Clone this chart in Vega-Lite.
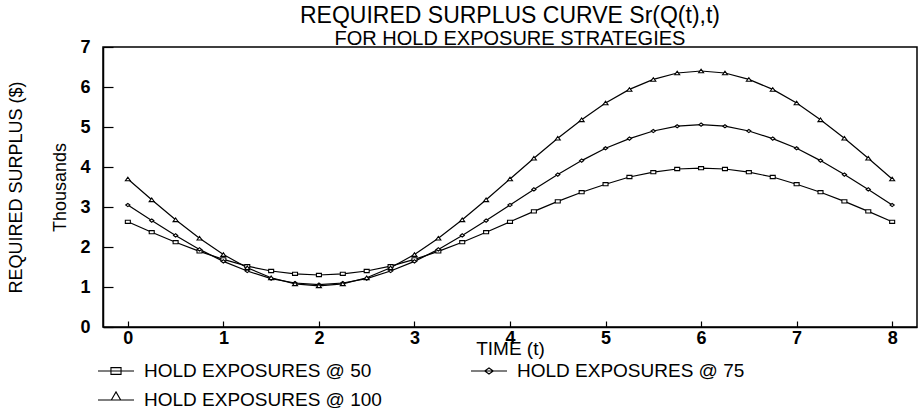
{
  "$schema": "https://vega.github.io/schema/vega-lite/v6.json",
  "width": 814,
  "height": 280,
  "autosize": {"type": "none"},
  "padding": {"left": 103, "top": 47, "right": 3, "bottom": 81},
  "background": "white",
  "title": {
    "text": "REQUIRED SURPLUS CURVE Sr(Q(t),t)",
    "subtitle": "FOR HOLD EXPOSURE STRATEGIES",
    "anchor": "middle",
    "frame": "group",
    "font": "Liberation Sans",
    "subtitleFont": "Liberation Sans",
    "fontSize": 23,
    "subtitleFontSize": 20,
    "fontWeight": "normal",
    "color": "black",
    "subtitleColor": "black",
    "offset": -11,
    "subtitlePadding": 1
  },
  "data": {
    "values": [
      {"t": 0, "v": 2.63, "s": "50"}, {"t": 0.25, "v": 2.37, "s": "50"}, {"t": 0.5, "v": 2.12, "s": "50"}, {"t": 0.75, "v": 1.89, "s": "50"},
      {"t": 1, "v": 1.69, "s": "50"}, {"t": 1.25, "v": 1.52, "s": "50"}, {"t": 1.5, "v": 1.4, "s": "50"}, {"t": 1.75, "v": 1.33, "s": "50"},
      {"t": 2, "v": 1.3, "s": "50"}, {"t": 2.25, "v": 1.33, "s": "50"}, {"t": 2.5, "v": 1.4, "s": "50"}, {"t": 2.75, "v": 1.52, "s": "50"},
      {"t": 3, "v": 1.69, "s": "50"}, {"t": 3.25, "v": 1.89, "s": "50"}, {"t": 3.5, "v": 2.12, "s": "50"}, {"t": 3.75, "v": 2.37, "s": "50"},
      {"t": 4, "v": 2.63, "s": "50"}, {"t": 4.25, "v": 2.89, "s": "50"}, {"t": 4.5, "v": 3.14, "s": "50"}, {"t": 4.75, "v": 3.37, "s": "50"},
      {"t": 5, "v": 3.57, "s": "50"}, {"t": 5.25, "v": 3.75, "s": "50"}, {"t": 5.5, "v": 3.87, "s": "50"}, {"t": 5.75, "v": 3.95, "s": "50"},
      {"t": 6, "v": 3.97, "s": "50"}, {"t": 6.25, "v": 3.95, "s": "50"}, {"t": 6.5, "v": 3.87, "s": "50"}, {"t": 6.75, "v": 3.75, "s": "50"},
      {"t": 7, "v": 3.57, "s": "50"}, {"t": 7.25, "v": 3.37, "s": "50"}, {"t": 7.5, "v": 3.14, "s": "50"}, {"t": 7.75, "v": 2.89, "s": "50"},
      {"t": 8, "v": 2.63, "s": "50"},
      {"t": 0, "v": 3.05, "s": "75"}, {"t": 0.25, "v": 2.66, "s": "75"}, {"t": 0.5, "v": 2.29, "s": "75"}, {"t": 0.75, "v": 1.94, "s": "75"},
      {"t": 1, "v": 1.64, "s": "75"}, {"t": 1.25, "v": 1.4, "s": "75"}, {"t": 1.5, "v": 1.21, "s": "75"}, {"t": 1.75, "v": 1.1, "s": "75"},
      {"t": 2, "v": 1.06, "s": "75"}, {"t": 2.25, "v": 1.1, "s": "75"}, {"t": 2.5, "v": 1.21, "s": "75"}, {"t": 2.75, "v": 1.4, "s": "75"},
      {"t": 3, "v": 1.64, "s": "75"}, {"t": 3.25, "v": 1.94, "s": "75"}, {"t": 3.5, "v": 2.29, "s": "75"}, {"t": 3.75, "v": 2.66, "s": "75"},
      {"t": 4, "v": 3.05, "s": "75"}, {"t": 4.25, "v": 3.44, "s": "75"}, {"t": 4.5, "v": 3.81, "s": "75"}, {"t": 4.75, "v": 4.16, "s": "75"},
      {"t": 5, "v": 4.47, "s": "75"}, {"t": 5.25, "v": 4.71, "s": "75"}, {"t": 5.5, "v": 4.9, "s": "75"}, {"t": 5.75, "v": 5.02, "s": "75"},
      {"t": 6, "v": 5.06, "s": "75"}, {"t": 6.25, "v": 5.02, "s": "75"}, {"t": 6.5, "v": 4.9, "s": "75"}, {"t": 6.75, "v": 4.71, "s": "75"},
      {"t": 7, "v": 4.47, "s": "75"}, {"t": 7.25, "v": 4.16, "s": "75"}, {"t": 7.5, "v": 3.81, "s": "75"}, {"t": 7.75, "v": 3.44, "s": "75"},
      {"t": 8, "v": 3.05, "s": "75"},
      {"t": 0, "v": 3.7, "s": "100"}, {"t": 0.25, "v": 3.18, "s": "100"}, {"t": 0.5, "v": 2.68, "s": "100"}, {"t": 0.75, "v": 2.22, "s": "100"},
      {"t": 1, "v": 1.81, "s": "100"}, {"t": 1.25, "v": 1.48, "s": "100"}, {"t": 1.5, "v": 1.23, "s": "100"}, {"t": 1.75, "v": 1.08, "s": "100"},
      {"t": 2, "v": 1.03, "s": "100"}, {"t": 2.25, "v": 1.08, "s": "100"}, {"t": 2.5, "v": 1.23, "s": "100"}, {"t": 2.75, "v": 1.48, "s": "100"},
      {"t": 3, "v": 1.81, "s": "100"}, {"t": 3.25, "v": 2.22, "s": "100"}, {"t": 3.5, "v": 2.68, "s": "100"}, {"t": 3.75, "v": 3.18, "s": "100"},
      {"t": 4, "v": 3.7, "s": "100"}, {"t": 4.25, "v": 4.22, "s": "100"}, {"t": 4.5, "v": 4.72, "s": "100"}, {"t": 4.75, "v": 5.18, "s": "100"},
      {"t": 5, "v": 5.6, "s": "100"}, {"t": 5.25, "v": 5.94, "s": "100"}, {"t": 5.5, "v": 6.19, "s": "100"}, {"t": 5.75, "v": 6.35, "s": "100"},
      {"t": 6, "v": 6.4, "s": "100"}, {"t": 6.25, "v": 6.35, "s": "100"}, {"t": 6.5, "v": 6.19, "s": "100"}, {"t": 6.75, "v": 5.94, "s": "100"},
      {"t": 7, "v": 5.6, "s": "100"}, {"t": 7.25, "v": 5.18, "s": "100"}, {"t": 7.5, "v": 4.72, "s": "100"}, {"t": 7.75, "v": 4.22, "s": "100"},
      {"t": 8, "v": 3.7, "s": "100"}
    ]
  },
  "encoding": {
    "x": {
      "field": "t", "type": "quantitative",
      "scale": {"domain": [-0.26, 8.26], "nice": false, "zero": false},
      "axis": {
        "values": [0, 1, 2, 3, 4, 5, 6, 7, 8],
        "format": "d",
        "labelOverlap": false,
        "title": "TIME (t)",
        "titleFontSize": 19,
        "titleFontWeight": "normal",
        "titleY": 27,
        "titleBaseline": "alphabetic",
        "labelFontSize": 18,
        "labelFontWeight": "bold",
        "tickSize": -6,
        "labelPadding": 8,
        "labelFlush": false
      }
    },
    "y": {
      "field": "v", "type": "quantitative",
      "scale": {"domain": [0, 7], "nice": false, "zero": false},
      "axis": {
        "values": [0, 1, 2, 3, 4, 5, 6, 7],
        "format": "d",
        "labelOverlap": false,
        "title": ["REQUIRED SURPLUS ($)", "Thousands"],
        "titleFontSize": 18,
        "titleFontWeight": "normal",
        "titleLineHeight": 44,
        "titlePadding": 10,
        "labelFontSize": 18,
        "labelFontWeight": "bold",
        "tickSize": -10,
        "labelPadding": 23,
        "labelFlush": false
      }
    }
  },
  "layer": [
    {
      "mark": {"type": "line", "color": "black", "strokeWidth": 1.2},
      "encoding": {"detail": {"field": "s"}}
    },
    {
      "mark": {"type": "point", "filled": true, "fill": "white", "stroke": "black", "strokeWidth": 1.1, "opacity": 1, "size": 100},
      "encoding": {
        "shape": {
          "field": "s", "type": "nominal",
          "scale": {
            "domain": ["50", "100", "75"],
            "range": [
              "M-0.5,-0.32H0.5V0.32H-0.5Z",
              "M-0.5,0.36L0,-0.36L0.5,0.36Z",
              "M-0.42,0L0,-0.32L0.42,0L0,0.32Z"
            ]
          },
          "legend": null
        }
      }
    },
    {
      "mark": {"type": "point", "filled": false, "color": "black", "stroke": "black", "strokeWidth": 1.1, "size": 0},
      "encoding": {
        "shape": {
          "field": "s", "type": "nominal",
          "scale": {
            "domain": ["50", "100", "75"],
            "range": [
              "M-1,0H1M-0.28,-0.19H0.28V0.19H-0.28Z",
              "M-1,0H1M-0.26,0L0,-0.45L0.26,0Z",
              "M-1,0H1M-0.24,0L0,-0.17L0.24,0L0,0.17Z"
            ]
          },
          "legend": {
            "title": null,
            "orient": "none",
            "legendX": -6,
            "legendY": 305,
            "columns": 2,
            "columnPadding": 86,
            "rowPadding": -9,
            "padding": 0,
            "labelFontSize": 19,
            "labelFont": "Liberation Sans",
            "labelColor": "black",
            "labelOffset": 9,
            "labelLimit": 400,
            "symbolSize": 1296,
            "symbolStrokeWidth": 1.1,
            "symbolStrokeColor": "black",
            "symbolFillColor": "white",
            "symbolOpacity": 1,
            "labelExpr": "'HOLD EXPOSURES @ ' + datum.label",
            "encode": {
              "symbols": {
                "update": {
                  "stroke": {"value": "black"},
                  "fill": {"value": "white"},
                  "strokeWidth": {"value": 1.1},
                  "opacity": {"value": 1},
                  "size": {"value": 1296}
                }
              }
            }
          }
        }
      }
    }
  ],
  "resolve": {"scale": {"shape": "independent"}},
  "config": {
    "font": "Liberation Sans",
    "view": {"stroke": "black", "strokeWidth": 1.5},
    "axis": {
      "domainColor": "black",
      "domainWidth": 1.5,
      "tickColor": "black",
      "tickWidth": 1.2,
      "labelColor": "black",
      "titleColor": "black",
      "grid": false,
      "labelFont": "Liberation Sans",
      "titleFont": "Liberation Sans"
    }
  }
}
